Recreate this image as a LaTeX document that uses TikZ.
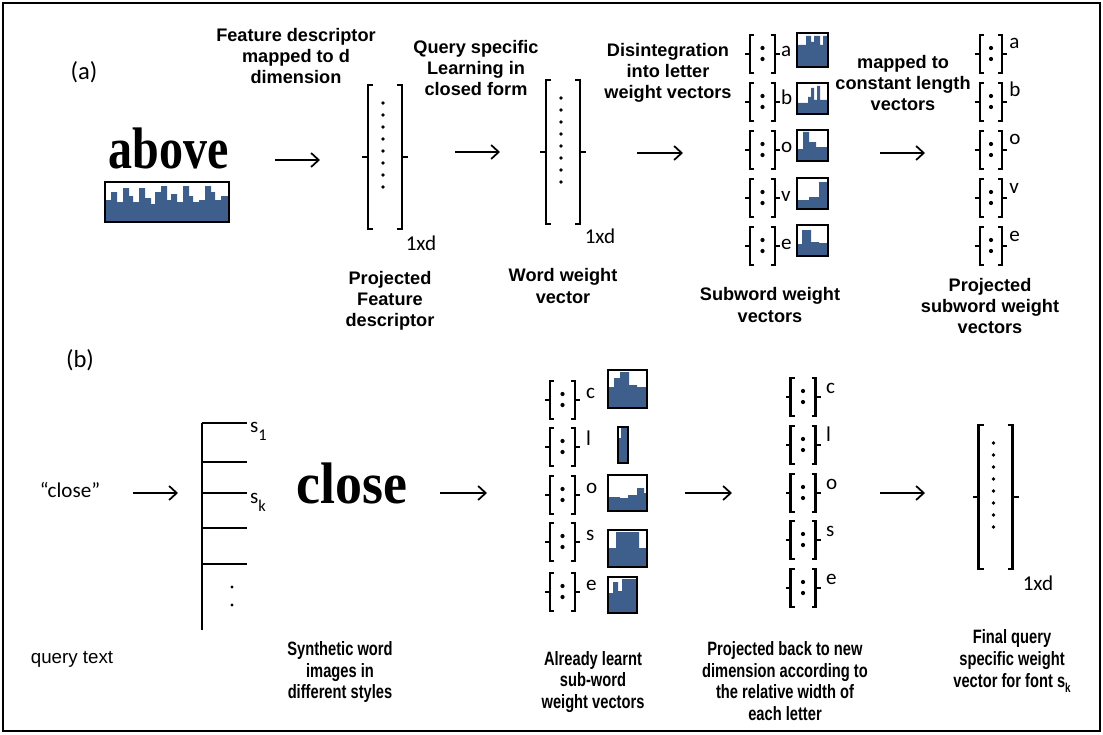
\documentclass[tikz,border=0pt]{standalone}
\usepackage{graphicx}
\usepackage{fontspec}
\setmainfont{Carlito}
\newfontfamily\capfont{Liberation Sans}
\newfontfamily\narrowfont[FakeStretch=0.76]{Liberation Sans}
\newfontfamily\wordfont{Liberation Serif}
\usetikzlibrary{arrows.meta,positioning}
\definecolor{histblue}{RGB}{62,95,140}

% histogram box: top-left x, y, width, height, skyline path
\newcommand{\histo}[5]{%
  \begin{scope}[shift={(#1,#2)}]
    \fill[HistFill] (0,#4) #5 -- (#3,#4) -- cycle;
    \draw[HistFrame] (0,0) rectangle (#3,#4);
  \end{scope}}

\begin{document}
\begin{tikzpicture}[x=0.03cm,y=-0.03cm]
		\tikzstyle{Caption}	= [font=\capfont\bfseries\fontsize{15.5}{18}\selectfont, align=center, inner sep=0pt]
		\tikzstyle{Narrow}	= [font=\narrowfont\bfseries\fontsize{16.5}{18.5}\selectfont, align=center, inner sep=0pt]
		\tikzstyle{Plain}	= [font=\fontsize{18}{18}\selectfont, inner sep=0pt]
		\tikzstyle{Letter}	= [Plain, anchor=base west]
		\tikzstyle{WordImg}	= [font=\wordfont\bfseries\fontsize{50}{50}\selectfont, inner sep=0pt, anchor=base]
		\tikzstyle{Flow}	= [-{Straight Barb[length=6.5pt,width=12pt]}, line width=1.5pt]
		\tikzstyle{VecLine}	= [line width=2.2pt]
		\tikzstyle{HistFill}	= [fill=histblue]
		\tikzstyle{HistFrame}	= [line width=2.2pt]
		\tikzstyle{Tree}	= [line width=2pt]
		\tikzstyle{Frame}	= [line width=2.4pt]
		\tikzset{
			pics/subvec/.style={code={
				\draw[VecLine] (-#1+4,-19) -- (-#1,-19) -- (-#1,19) -- (-#1+4,19)
					(-#1,0) -- (-#1-5,0)
					(#1-4,-19) -- (#1,-19) -- (#1,19) -- (#1-4,19)
					(#1,0) -- (#1+5,0);
				\fill (0,-6) circle (1.8pt) (0,5) circle (1.8pt);
			}},
			pics/bigvec/.style={code={
				\draw[VecLine] (-12,-72) -- (-17,-72) -- (-17,72) -- (-12,72)
					(-17,0) -- (-23,0)
					(12,-72) -- (17,-72) -- (17,72) -- (12,72)
					(17,0) -- (23,0);
				\foreach \k in {0,...,7} \fill (-2,-54+12*\k) circle (1.6pt);
			}}
		}

		\useasboundingbox (0,0) rectangle (1103,734);
		\draw[Frame] (3,3) rectangle (1100,731);

		% (a)
		\node[Plain, font=\fontsize{21}{21}\selectfont] (tagA) at (84,72) {(a)};
		\node[WordImg] (wordAbove) at (169,168) {\scalebox{0.82}[1]{above}};
		\histo{105}{182}{124}{40}{|- (6,18) |- (12,10) |- (18,20) |- (24,6) |- (28,14) |- (34,20) |- (40,6) |- (46,16) |- (50,22) |- (56,10) |- (62,4) |- (66,18) |- (72,12) |- (78,20) |- (84,4) |- (88,14) |- (94,20) |- (100,18) |- (106,4) |- (110,10) |- (116,18) |- (124,14)}

		\node[Caption] (featDesc) at (296,56) {Feature descriptor\\mapped to d\\dimension};
		\node[Caption] (querySpec) at (476,68) {Query specific\\Learning in\\closed form};
		\node[Caption] (disint) at (668,73) {Disintegration\\into letter\\weight vectors};
		\node[Caption] (constLen) at (903,83) {mapped to\\constant length\\vectors};

		\pic at (385,157) {bigvec};
		\node[Plain] (dimP) at (421,243) {1xd};
		\pic at (563,152) {bigvec};
		\node[Plain] (dimW) at (600,236) {1xd};

		\foreach \c/\l in {54/a,102/b,150/o,198/v,246/e} {
			\pic at (762.5,\c) {subvec=12.5};
			\node[Letter] (sub\l) at (781,\c+3) {\l};
			\pic at (991,\c) {subvec=11};
			\node[Letter] (proj\l) at (1009,\c-5) {\l};
		}
		\histo{797}{33}{31}{34}{|- (9,12) |- (14,3) |- (17,9) |- (23,3) |- (26,12) |- (31,3)}
		\histo{797}{83}{31}{31}{|- (11,20) |- (14,14) |- (17,5) |- (20,17) |- (23,3) |- (31,17)}
		\histo{797}{130}{31}{31}{|- (6,19) |- (12,2) |- (19,12) |- (31,17)}
		\histo{797}{178}{31}{31}{|- (12,22) |- (22,19) |- (31,4)}
		\histo{797}{225}{31}{31}{|- (5,19) |- (14,5) |- (22,17) |- (31,18)}

		\node[Caption] (capProj) at (390,301) {Projected\\Feature\\descriptor};
		\node[Caption] (capWord) at (563,286) {Word weight\\vector};
		\node[Caption] (capSub) at (770,305) {Subword weight\\vectors};
		\node[Caption] (capProjSub) at (990,306) {Projected\\subword weight\\vectors};

		\coordinate (arA1) at (275,160); \coordinate (arA1e) at (320,160);
		\coordinate (arA2) at (455,152); \coordinate (arA2e) at (500,152);
		\coordinate (arA3) at (637,153); \coordinate (arA3e) at (683,153);
		\coordinate (arA4) at (880,153); \coordinate (arA4e) at (925,153);
		\draw[Flow] (arA1) -- (arA1e);
		\draw[Flow] (arA2) -- (arA2e);
		\draw[Flow] (arA3) -- (arA3e);
		\draw[Flow] (arA4) -- (arA4e);

		% (b)
		\node[Plain, font=\fontsize{21}{21}\selectfont] (tagB) at (80,360) {(b)};
		\node[Plain] (queryWord) at (70,490) {“close”};

		\coordinate (treeTop) at (202,423);
		\coordinate (treeBot) at (202,630);
		\draw[Tree] (treeTop) -- (treeBot);
		\foreach \yy in {423,462,493,528,564} \draw[Tree] (202,\yy) -- (247,\yy);
		\fill (232,587) circle (1.4pt) (232,605) circle (1.4pt);
		\node[Letter] (styleOne) at (250,432) {s\raisebox{-7pt}{\fontsize{14}{14}\selectfont 1}};
		\node[Letter] (styleK) at (250,503) {s\raisebox{-7pt}{\fontsize{14}{14}\selectfont k}};
		\node[WordImg] (wordClose) at (352,503) {\scalebox{0.92}[1]{close}};

		\foreach \c/\d/\l in {400/397/c,447/445/l,495/493/o,542/540/s,592/588/e} {
			\pic at (562.5,\c) {subvec=12.5};
			\node[Letter] (learnt\l) at (586,\c-2) {\l};
			\pic at (803,\d) {subvec=12.5};
			\node[Letter] (back\l) at (826,\d-4) {\l};
		}
		\histo{608}{370}{39}{38}{|- (6,17) |- (12,8) |- (21,2) |- (29,15) |- (39,17)}
		\histo{618}{427}{10}{36}{|- (3,11) |- (10,1)}
		\histo{608}{475}{39}{36}{|- (12,22) |- (20,23) |- (29,20) |- (36,13) |- (39,18)}
		\histo{608}{530}{39}{37}{|- (8,18) |- (31,2) |- (39,18)}
		\histo{608}{577}{29}{36}{|- (5,16) |- (10,5) |- (14,14) |- (29,2)}

		\pic at (995.5,497) {bigvec};
		\node[Plain] (dimF) at (1038,583) {1xd};

		\coordinate (arB1) at (133,493); \coordinate (arB1e) at (178,493);
		\coordinate (arB2) at (440,493); \coordinate (arB2e) at (487,493);
		\coordinate (arB3) at (685,493); \coordinate (arB3e) at (732,493);
		\coordinate (arB4) at (880,493); \coordinate (arB4e) at (925,493);
		\draw[Flow] (arB1) -- (arB1e);
		\draw[Flow] (arB2) -- (arB2e);
		\draw[Flow] (arB3) -- (arB3e);
		\draw[Flow] (arB4) -- (arB4e);

		\node[Narrow, font=\capfont\fontsize{16}{18}\selectfont] (capQuery) at (72,659) {query text};
		\node[Narrow] (capSynth) at (340,672) {Synthetic word\\images in\\different styles};
		\node[Narrow] (capLearnt) at (593,682) {Already learnt\\sub-word\\weight vectors};
		\node[Narrow] (capBack) at (785,681) {Projected back to new\\dimension according to\\the relative width of\\each letter};
		\node[Narrow] (capFinal) at (1012,661) {Final query\\specific weight\\vector for font s\raisebox{-4pt}{\fontsize{11}{11}\selectfont k}};
	\end{tikzpicture}
\end{document}
